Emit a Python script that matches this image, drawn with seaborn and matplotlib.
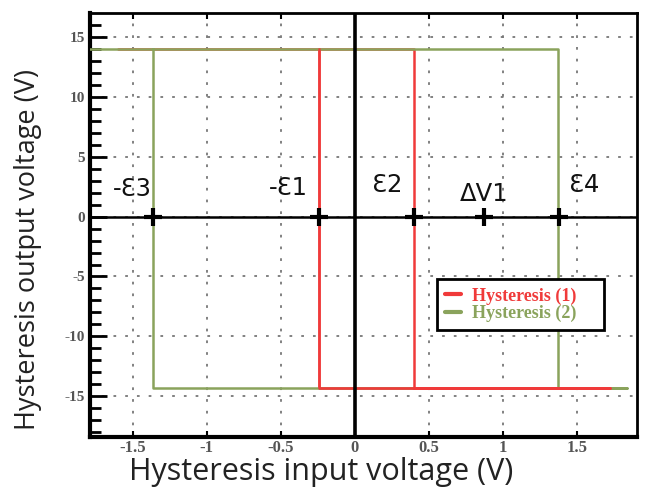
import numpy as np
import pandas as pd
import matplotlib
matplotlib.use("Agg")
import matplotlib.pyplot as plt
import seaborn as sns

# ---- data ----
red_x = [-1.6, 0.4, 0.4, 1.72, -0.24, -0.24]
red_y = [14.0, 14.0, -14.3, -14.3, -14.3, 14.0]
green_x = [-1.8, 1.37, 1.37, 1.84, -1.36, -1.36]
green_y = [14.0, 14.0, -14.3, -14.3, -14.3, 14.0]
pt_labels = ["-Ɛ3", "-Ɛ1", "Ɛ2", "ΔV1", "Ɛ4"]
pt_x = [-1.36, -0.24, 0.4, 0.87, 1.38]
pt_y = [0, 0, 0, 0, 0]
x_ticks = [-1.5, -1, -0.5, 0, 0.5, 1, 1.5]
x_tick_labels = ["-1.5", "-1", "-0.5", "0", "0.5", "1", "1.5"]
y_ticks = [-15, -10, -5, 0, 5, 10, 15]
y_tick_labels = ["-15", "-10", "-5", "0", "5", "10", "15"]
series_names = ["Hysteresis (1)", "Hysteresis (2)"]

RED = "#f03a3a"
GREEN = "#8aa35c"

sns.set_theme(style="white")
fig = plt.figure(figsize=(6.46, 4.88), dpi=100)
ax = fig.add_axes([0.139, 0.1045, 0.847, 0.869])

df_r = pd.DataFrame({"x": red_x, "y": red_y})
df_g = pd.DataFrame({"x": green_x, "y": green_y})

sns.lineplot(data=df_r, x="x", y="y", sort=False, estimator=None, color=RED,
             lw=1.8, ax=ax, zorder=3, label=series_names[0])
sns.lineplot(data=df_g, x="x", y="y", sort=False, estimator=None, color=GREEN,
             lw=1.8, ax=ax, zorder=4, label=series_names[1])
sns.lineplot(data=df_r.iloc[2:], x="x", y="y", sort=False, estimator=None,
             color=RED, lw=1.8, ax=ax, zorder=5, legend=False)

ax.set_xlim(-1.79, 1.905)
ax.set_ylim(-18.4, 17.0)

# zero axes
ax.axvline(0, color="black", lw=2.6, zorder=6)
ax.axhline(0, color="black", lw=1.8, zorder=6)

sns.scatterplot(x=pt_x, y=pt_y, marker="+", s=160, color="black",
                linewidth=3, ax=ax, zorder=7, legend=False)

lab_dx = [-0.14, -0.21, -0.18, 0.0, 0.17]
lab_y = [2.3, 2.4, 2.65, 1.85, 2.65]
for t, x0, dx, yy in zip(pt_labels, pt_x, lab_dx, lab_y):
    ax.text(x0 + dx, yy, t, ha="center", va="center", fontsize=17.5,
            family="DejaVu Sans", color="#111111", zorder=8)

# grid
ax.set_xticks(x_ticks)
ax.set_xticklabels(x_tick_labels)
ax.set_yticks(y_ticks)
ax.set_yticklabels(y_tick_labels)
ax.set_yticks(np.arange(-18, 17, 1), minor=True)
ax.grid(True, which="major", color="#777777", linestyle=(0, (1.5, 5)), lw=1.3)
ax.tick_params(axis="y", which="major", direction="in", length=12, width=2,
               left=True, color="black", labelsize=11, labelcolor="#555555")
ax.tick_params(axis="y", which="minor", direction="in", length=8, width=2,
               left=True, color="black")
ax.tick_params(axis="x", which="major", direction="in", length=4, width=1.5,
               bottom=True, top=True, color="black", labelsize=12,
               labelcolor="#555555", pad=2)
for lab in ax.get_xticklabels() + ax.get_yticklabels():
    lab.set_family("Liberation Serif")
    lab.set_fontweight("bold")

for s in ["left", "bottom"]:
    ax.spines[s].set_linewidth(3)
    ax.spines[s].set_color("black")
for s in ["top", "right"]:
    ax.spines[s].set_linewidth(2)
    ax.spines[s].set_color("black")

ax.set_xlabel("Hysteresis input voltage (V)", fontsize=22, family="Open Sans",
              color="#222222")
ax.xaxis.label.set_va("center")
ax.xaxis.set_label_coords(0.422, -0.083)
ax.set_ylabel("Hysteresis output voltage (V)", fontsize=19.5, family="Open Sans",
              color="#222222")
ax.yaxis.label.set_va("center")
ax.yaxis.label.set_ha("center")
ax.yaxis.set_label_coords(-0.113, 0.441)

leg = ax.legend(loc="lower left", bbox_to_anchor=(0.618, 0.231, 0.338, 0.135),
                mode="expand", frameon=True, fancybox=False,
                prop={"family": "Liberation Serif", "size": 13, "weight": "bold"},
                handlelength=0.9, borderpad=0.45, labelspacing=0.0,
                handletextpad=0.6)
leg.get_frame().set_edgecolor("black")
leg.get_frame().set_linewidth(2)
leg.get_frame().set_alpha(1)
for txt, c in zip(leg.get_texts(), [RED, GREEN]):
    txt.set_color(c)
for h in leg.get_lines():
    h.set_linewidth(3)
leg.set_zorder(10)

fig.savefig("out.png", dpi=100)
